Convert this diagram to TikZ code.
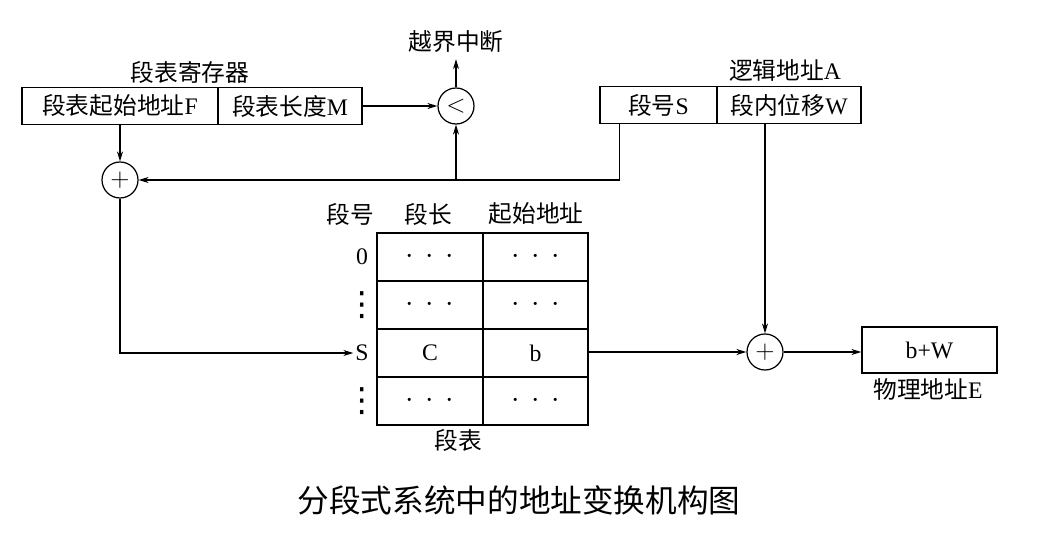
\documentclass[tikz,border=0pt]{standalone}
\usepackage{fontspec}
\setmainfont{Liberation Serif}
\newfontfamily\cjk{Noto Sans CJK SC}
\newfontfamily\symf{DejaVu Sans}
\newcommand{\zh}[1]{{\cjk #1}}
\newcommand{\tdots}{{\fontsize{17}{17}\selectfont$\cdot\,\cdot\,\cdot$}}
\newcommand{\vdts}{{\symf\fontsize{19}{19}\selectfont ⋮}}
\usetikzlibrary{positioning,arrows.meta,calc}

\begin{document}
\begin{tikzpicture}[
  x=0.02cm, y=-0.02cm,
  font=\fontsize{13.5}{15}\selectfont,
  box/.style={rectangle, draw, line width=0.7pt, inner sep=2pt, minimum height=0.74cm},
  cell/.style={rectangle, draw, line width=0.7pt, minimum height=0.96cm, inner sep=0pt},
  op/.style={circle, draw, line width=0.7pt, minimum size=0.72cm, inner sep=0pt},
  rowlab/.style={inner sep=0pt},
  arrow/.style={-{Stealth[length=2mm,width=1.2mm]}, line width=0.6pt},
]
\useasboundingbox (0,0) rectangle (1038,540);

% === SEGMENT TABLE REGISTER ===
\node[box, minimum width=3.92cm] (regF) at (120,106) {\zh{段表起始地址}F};
\node[box, minimum width=2.88cm] (regM) at (290,106) {\zh{段表长度}M};
\node (regcap) at (190,72) {\zh{段表寄存器}};

% === LOGICAL ADDRESS ===
\node[box, minimum width=2.34cm] (laS) at (658.5,105) {\zh{段号}S};
\node[box, minimum width=2.88cm] (laW) at (789,105) {\zh{段内位移}W};
\node (lacap) at (785,70) {\zh{逻辑地址}A};

% === COMPARE AND ADDERS ===
\node[op] (cmp) at (456,106) {$<$};
\node (intr) at (456,42) {\zh{越界中断}};
\node[op] (add1) at (120,180) {$+$};
\node[op] (add2) at (765,352) {$+$};

% === SEGMENT TABLE ===
\node (h0) at (350,214) {\zh{段号}};
\node (h1) at (428,214) {\zh{段长}};
\node (h2) at (536,214) {\zh{起始地址}};
\node[cell, minimum width=2.12cm] (c01) at (430,257) {\tdots};
\node[cell, minimum width=2.10cm] (c02) at (535.5,257) {\tdots};
\node[cell, minimum width=2.12cm] (c11) at (430,305) {\tdots};
\node[cell, minimum width=2.10cm] (c12) at (535.5,305) {\tdots};
\node[cell, minimum width=2.12cm] (c21) at (430,353) {C};
\node[cell, minimum width=2.10cm] (c22) at (535.5,353) {b};
\node[cell, minimum width=2.12cm] (c31) at (430,401) {\tdots};
\node[cell, minimum width=2.10cm] (c32) at (535.5,401) {\tdots};
\node[rowlab] (r0) at (362,257) {0};
\node[rowlab] (r1) at (362,305) {\vdts};
\node[rowlab] (rS) at (362,353) {S};
\node[rowlab] (r3) at (362,401) {\vdts};
\node (tabcap) at (458,440) {\zh{段表}};

% === PHYSICAL ADDRESS ===
\node[box, minimum width=2.7cm, minimum height=0.92cm] (res) at (929.5,350) {b+W};
\node (rescap) at (928,389) {\zh{物理地址}E};

% === CONNECTIONS ===
\draw[arrow] (regM) -- (cmp);
\draw[arrow] (cmp) -- (intr);
\draw[arrow] (regF) -- (add1);
\draw[arrow] ([xshift=0.4cm]laS.south west) |- (add1);
\draw[arrow] (cmp |- add1) -- (cmp);
\draw[arrow] (add1) |- ([xshift=-1pt]rS.west);
\draw[arrow] (c22.east |- add2) -- (add2);
\draw[arrow] (add2 |- laW.south) -- (add2);
\draw[arrow] (add2) -- (add2 -| res.west);

\node[font=\fontsize{18}{21}\selectfont] (title) at (519,500) {\zh{分段式系统中的地址变换机构图}};
\end{tikzpicture}
\end{document}
